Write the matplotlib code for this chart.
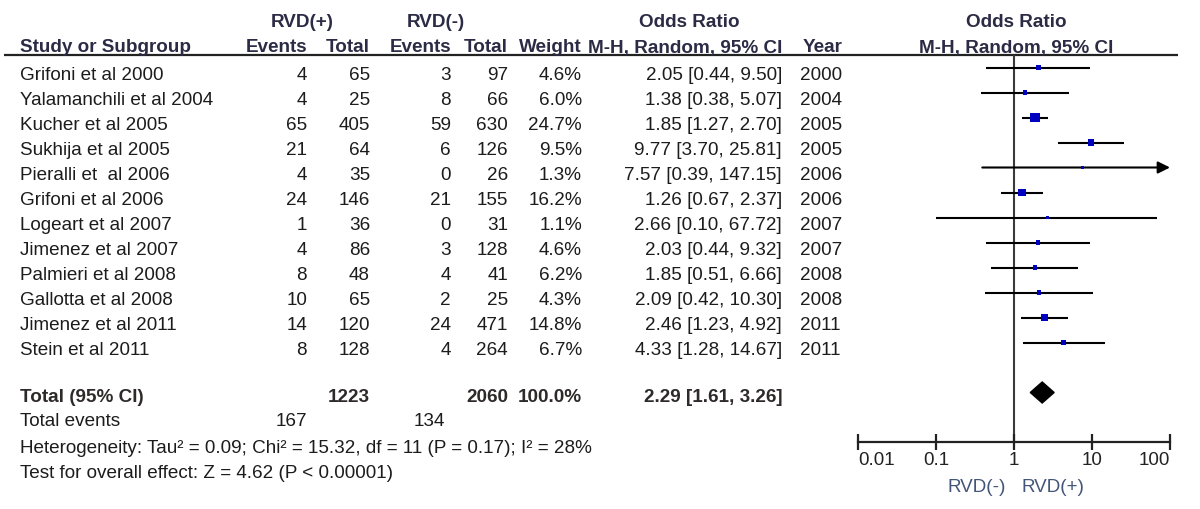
import matplotlib
matplotlib.use("Agg")
import matplotlib.pyplot as plt
import numpy as np

# ---------------- data ----------------
studies = ["Grifoni et al 2000", "Yalamanchili et al 2004", "Kucher et al 2005",
           "Sukhija et al 2005", "Pieralli et  al 2006", "Grifoni et al 2006",
           "Logeart et al 2007", "Jimenez et al 2007", "Palmieri et al 2008",
           "Gallotta et al 2008", "Jimenez et al 2011", "Stein et al 2011"]
events_pos = [4, 4, 65, 21, 4, 24, 1, 4, 8, 10, 14, 8]
total_pos = [65, 25, 405, 64, 35, 146, 36, 86, 48, 65, 120, 128]
events_neg = [3, 8, 59, 6, 0, 21, 0, 3, 4, 2, 24, 4]
total_neg = [97, 66, 630, 126, 26, 155, 31, 128, 41, 25, 471, 264]
weights = [4.6, 6.0, 24.7, 9.5, 1.3, 16.2, 1.1, 4.6, 6.2, 4.3, 14.8, 6.7]
odds = [2.05, 1.38, 1.85, 9.77, 7.57, 1.26, 2.66, 2.03, 1.85, 2.09, 2.46, 4.33]
ci_low = [0.44, 0.38, 1.27, 3.70, 0.39, 0.67, 0.10, 0.44, 0.51, 0.42, 1.23, 1.28]
ci_high = [9.50, 5.07, 2.70, 25.81, 147.15, 2.37, 67.72, 9.32, 6.66, 10.30, 4.92, 14.67]
years = [2000, 2004, 2005, 2005, 2006, 2006, 2007, 2007, 2008, 2008, 2011, 2011]

total_n_pos, total_n_neg = 1223, 2060
total_ev_pos, total_ev_neg = 167, 134
total_weight = 100.0
pooled_or, pooled_lo, pooled_hi = 2.29, 1.61, 3.26
heterogeneity = "Heterogeneity: Tau\u00b2 = 0.09; Chi\u00b2 = 15.32, df = 11 (P = 0.17); I\u00b2 = 28%"
overall = "Test for overall effect: Z = 4.62 (P < 0.00001)"
xticks = [0.01, 0.1, 1, 10, 100]
xtick_labels = ["0.01", "0.1", "1", "10", "100"]
favours = ["RVD(-)", "RVD(+)"]

# ---------------- layout ----------------
W, H = 1200, 510
FONT = "Liberation Sans"
FS = 13.6
HEAD_C = "#2b2b45"
BODY_C = "#1c1c1c"

fig = plt.figure(figsize=(W / 100, H / 100), dpi=100)
ax = fig.add_axes([0, 0, 1, 1])
ax.set_xlim(0, W)
ax.set_ylim(H, 0)
ax.axis("off")

def txt(x, y, s, ha="left", bold=False, color=BODY_C, size=FS):
    ax.text(x, y, s, ha=ha, va="baseline", fontsize=size, family=FONT,
            fontweight="bold" if bold else "normal", color=color)

# column right edges
c_evp, c_totp, c_evn, c_totn, c_w, c_ci, c_year = 307, 370, 451, 508, 582, 782, 800

# headers
hy1, hy2 = 27, 52.5
txt(302, hy1, "RVD(+)", ha="center", bold=True, color=HEAD_C)
txt(436, hy1, "RVD(-)", ha="center", bold=True, color=HEAD_C)
txt(689, hy1, "Odds Ratio", ha="center", bold=True, color=HEAD_C)
txt(1016, hy1, "Odds Ratio", ha="center", bold=True, color=HEAD_C)
txt(20, hy2, "Study or Subgroup", bold=True, color=HEAD_C)
txt(c_evp, hy2, "Events", ha="right", bold=True, color=HEAD_C)
txt(c_totp, hy2, "Total", ha="right", bold=True, color=HEAD_C)
txt(c_evn, hy2, "Events", ha="right", bold=True, color=HEAD_C)
txt(c_totn, hy2, "Total", ha="right", bold=True, color=HEAD_C)
txt(c_w, hy2, "Weight", ha="right", bold=True, color=HEAD_C)
txt(c_ci, hy2, "M-H, Random, 95% CI", ha="right", bold=True, color=HEAD_C)
txt(c_year + 3, hy2, "Year", bold=True, color=HEAD_C)
txt(1016, hy2, "M-H, Random, 95% CI", ha="center", bold=True, color=HEAD_C)
ax.plot([4, 1178], [55.7, 55.7], color="#222222", lw=1.6, solid_capstyle="butt")

row0, dy = 68.5, 25.0
row_y = [row0 + dy * i for i in range(len(studies))]
for i, y in enumerate(row_y):
    b = y + 11.5
    txt(20, b, studies[i])
    txt(c_evp, b, str(events_pos[i]), ha="right")
    txt(c_totp, b, str(total_pos[i]), ha="right")
    txt(c_evn, b, str(events_neg[i]), ha="right")
    txt(c_totn, b, str(total_neg[i]), ha="right")
    txt(c_w, b, f"{weights[i]:.1f}%", ha="right")
    txt(c_ci, b, f"{odds[i]:.2f} [{ci_low[i]:.2f}, {ci_high[i]:.2f}]", ha="right")
    txt(c_year, b, str(years[i]))

tot_y = 393.5
TOT_C = "#2e2a2a"
txt(20, tot_y + 9, "Total (95% CI)", bold=True, color=TOT_C)
txt(c_totp, tot_y + 9, str(total_n_pos), ha="right", bold=True, color=TOT_C)
txt(c_totn, tot_y + 9, str(total_n_neg), ha="right", bold=True, color=TOT_C)
txt(c_w, tot_y + 9, f"{total_weight:.1f}%", ha="right", bold=True, color=TOT_C)
txt(c_ci, tot_y + 9, f"{pooled_or:.2f} [{pooled_lo:.2f}, {pooled_hi:.2f}]", ha="right", bold=True, color=TOT_C)
txt(20, 426.5, "Total events")
txt(c_evp, 426.5, str(total_ev_pos), ha="right")
txt(445, 426.5, str(total_ev_neg), ha="right")
txt(20, 453, heterogeneity)
txt(20, 478, overall)

# ---------------- forest plot ----------------
x0, x1 = 858.3, 1170.0
ytop, ybot = 55.7, 443.0
axf = fig.add_axes([x0 / W, (H - ybot) / H, (x1 - x0) / W, (ybot - ytop) / H])
axf.set_xscale("log")
axf.set_xlim(0.01, 100)
axf.set_ylim(ybot, ytop)
axf.patch.set_alpha(0)
for s in ["top", "left", "right"]:
    axf.spines[s].set_visible(False)
axf.spines["bottom"].set_linewidth(1.6)
axf.spines["bottom"].set_color("#222222")
axf.set_yticks([])
axf.set_xticks(xticks)
labels = axf.set_xticklabels(xtick_labels, fontsize=FS, family=FONT, color="#222222")
labels[0].set_horizontalalignment("left")
labels[-1].set_horizontalalignment("right")
axf.xaxis.set_minor_locator(matplotlib.ticker.NullLocator())
axf.tick_params(axis="x", direction="inout", length=11, width=1.6, color="#222222", pad=1)

axf.axvline(1, color="#3a3a3a", lw=1.5, zorder=1)

for i, y in enumerate(row_y):
    hi = ci_high[i]
    if hi > 100:
        axf.annotate("", xy=(100, y), xytext=(ci_low[i], y),
                     arrowprops=dict(arrowstyle="-|>", color="black", lw=1.5,
                                     shrinkA=0, shrinkB=0, mutation_scale=18),
                     annotation_clip=False, zorder=2)
    else:
        axf.plot([ci_low[i], hi], [y, y], color="black", lw=1.5, zorder=2,
                 solid_capstyle="butt")
    side_px = 9.7 * np.sqrt(weights[i] / 24.7)
    side_px = max(side_px, 2.8)
    axf.scatter([odds[i]], [y], marker="s", s=(side_px * 0.72) ** 2,
                color="#0000c0", edgecolors="none", zorder=3)

axf.fill([pooled_lo, pooled_or, pooled_hi, pooled_or],
         [tot_y, tot_y - 10.5, tot_y, tot_y + 10.5], color="black", zorder=3)

txt(977, 492, favours[0], ha="center", color="#44557a")
txt(1053, 492, favours[1], ha="center", color="#44557a")

fig.savefig("out.png", dpi=100)
